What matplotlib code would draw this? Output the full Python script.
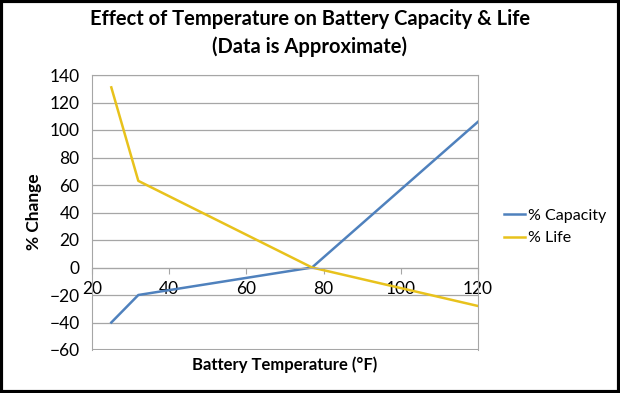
import matplotlib.pyplot as plt
from matplotlib.patches import Rectangle

temps = [25, 32, 77, 120]
capacity = [-40, -20, 0, 106]
life = [131, 63, 0, -28]
series_names = ['% Capacity', '% Life']
colors = ['#4F81BD', '#E8C21C']

plt.rcParams['font.family'] = ['Lato', 'DejaVu Sans']

fig = plt.figure(figsize=(6.2, 3.93), dpi=100)
ax = fig.add_axes([92 / 620, 1 - 350 / 393, (478 - 92) / 620, (350 - 75) / 393])

ax.plot(temps, capacity, color=colors[0], lw=1.8, label=series_names[0])
ax.plot(temps, life, color=colors[1], lw=1.8, label=series_names[1])

ax.set_xlim(20, 120)
ax.set_ylim(-60, 140)
ax.set_yticks(range(-60, 141, 20))
ax.set_xticks(range(20, 121, 20))
ax.yaxis.grid(True, color='#A6A6A6', lw=0.9)
ax.set_axisbelow(True)

for s in ax.spines.values():
    s.set_color('#A6A6A6')
ax.spines['bottom'].set_position(('data', 0))
ax.axhline(-60, color='#A6A6A6', lw=1.5)
ax.tick_params(axis='both', labelsize=12.5, length=4, color='#A6A6A6')
ax.tick_params(axis='y', length=0, pad=9)
ax.tick_params(axis='x', direction='out', pad=6)

fig.text(0.055, 1 - 212 / 393, '% Change', rotation=90, fontsize=12.5,
         fontweight='bold', ha='center', va='center')
fig.text(285 / 620, 1 - 365 / 393, 'Battery Temperature (°F)', fontsize=12,
         fontweight='bold', ha='center', va='center')
fig.text(310 / 620, 1 - 19 / 393, 'Effect of Temperature on Battery Capacity & Life',
         fontsize=14.5, fontweight='bold', ha='center', va='center')
fig.text(310 / 620, 1 - 47 / 393, '(Data is Approximate)',
         fontsize=14.5, fontweight='bold', ha='center', va='center')

fig.legend(loc='center left', bbox_to_anchor=(490 / 620, 1 - 227 / 393),
           frameon=False, fontsize=11.5, handlelength=1.3, handletextpad=0.2,
           labelspacing=0.5)

fig.patches.append(Rectangle((0.002, 0.003), 0.996, 0.994, transform=fig.transFigure,
                             fill=False, edgecolor='black', lw=3))

fig.savefig('out.png', dpi=100)
